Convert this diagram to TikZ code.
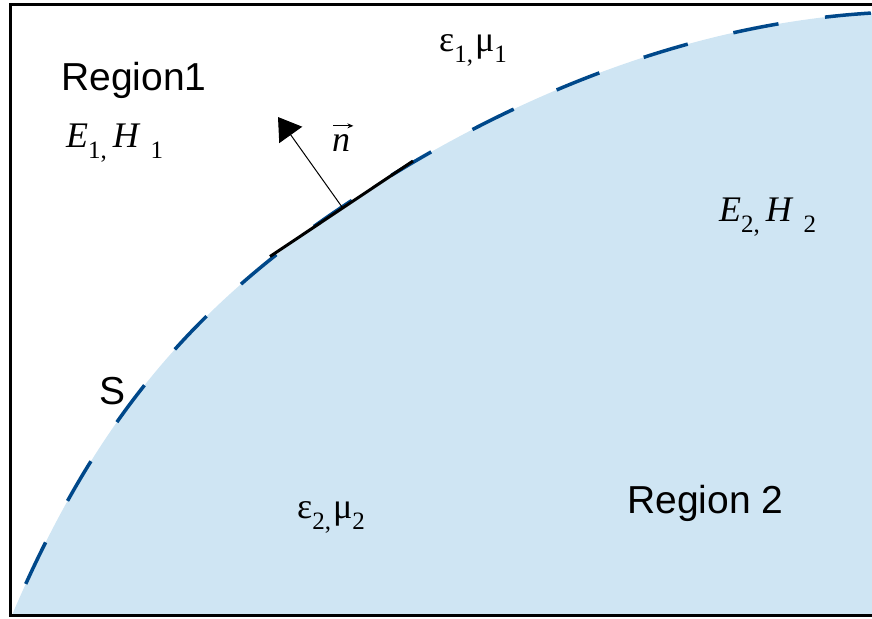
\documentclass[tikz,border=0pt]{standalone}
\usepackage{fontspec}
\setmainfont{Liberation Serif}
\newfontfamily\arialfont{Liberation Sans}
\usetikzlibrary{arrows.meta}
\definecolor{fillblue}{RGB}{207,229,243}
\definecolor{dashblue}{RGB}{0,72,138}
\newcommand\sbs[1]{\raisebox{-11pt}{\fontsize{25}{25}\selectfont\upshape #1}}
\begin{document}
\begin{tikzpicture}[x=1pt,y=-1pt,
  sanslabel/.style={font=\arialfont\fontsize{39}{39}\selectfont, anchor=base west, inner sep=0pt},
  mathlabel/.style={font=\fontsize{36}{36}\selectfont, anchor=base west, inner sep=0pt},
  frameline/.style={line width=3pt, black},
  boundary/.style={dashblue, line width=3.5pt, dash pattern=on 46pt off 47pt, dash phase=59pt},
  tangentline/.style={line width=3pt, black},
  normalarrow/.style={line width=1pt, -{Triangle[length=22pt,width=28pt]}},
  vecarrow/.style={line width=1pt, -{Stealth[length=6pt,width=5pt]}}]
\useasboundingbox (0,0) rectangle (872,618);
\clip (0,0) rectangle (872,618);
% region 2 fill
\fill[fillblue] (12,615) .. controls (88.8,435.8) and (180,315.6) .. (342,207)
  .. controls (500,101) and (682,24.4) .. (872,13) -- (890,13) -- (890,616) -- (12,616) -- cycle;
% boundary S
\draw[boundary] (12,615) .. controls (88.8,435.8) and (180,315.6) .. (342,207)
  .. controls (500,101) and (682,24.4) .. (872,13);
% frame
\draw[frameline] (890,4.5) -- (10,4.5) -- (10,615) -- (890,615);
% tangent element and normal
\coordinate (T1) at (270,256.5);
\coordinate (T2) at (413,161);
\coordinate (P) at (342,207);
\coordinate (N) at (278,117);
\draw[tangentline] (T1) -- (T2);
\draw[normalarrow] (P) -- (N);
% labels
\node[sanslabel] (reg1) at (61,90) {Region1};
\node[sanslabel] (reg2) at (627,513) {Region 2};
\node[sanslabel] (S) at (99,404) {S};
\node[mathlabel] (EH1) at (66,147) {\textit{E}\sbs{1,}\hspace{6pt}\textit{H}\hspace{10pt}\sbs{1}};
\node[mathlabel] (EH2) at (719,221) {\textit{E}\sbs{2,}\hspace{6pt}\textit{H}\hspace{10pt}\sbs{2}};
\node[mathlabel] (em1) at (439,52) {ε\sbs{1,}\hspace{2pt}μ\sbs{1}};
\node[mathlabel] (em2) at (297,518) {ε\sbs{2,}\hspace{2pt}μ\sbs{2}};
\node[mathlabel] (nvec) at (332,151) {\textit{n}};
\draw[vecarrow] ([xshift=1pt,yshift=8pt]nvec.north west) -- ([xshift=3pt,yshift=8pt]nvec.north east);
\end{tikzpicture}
\end{document}
